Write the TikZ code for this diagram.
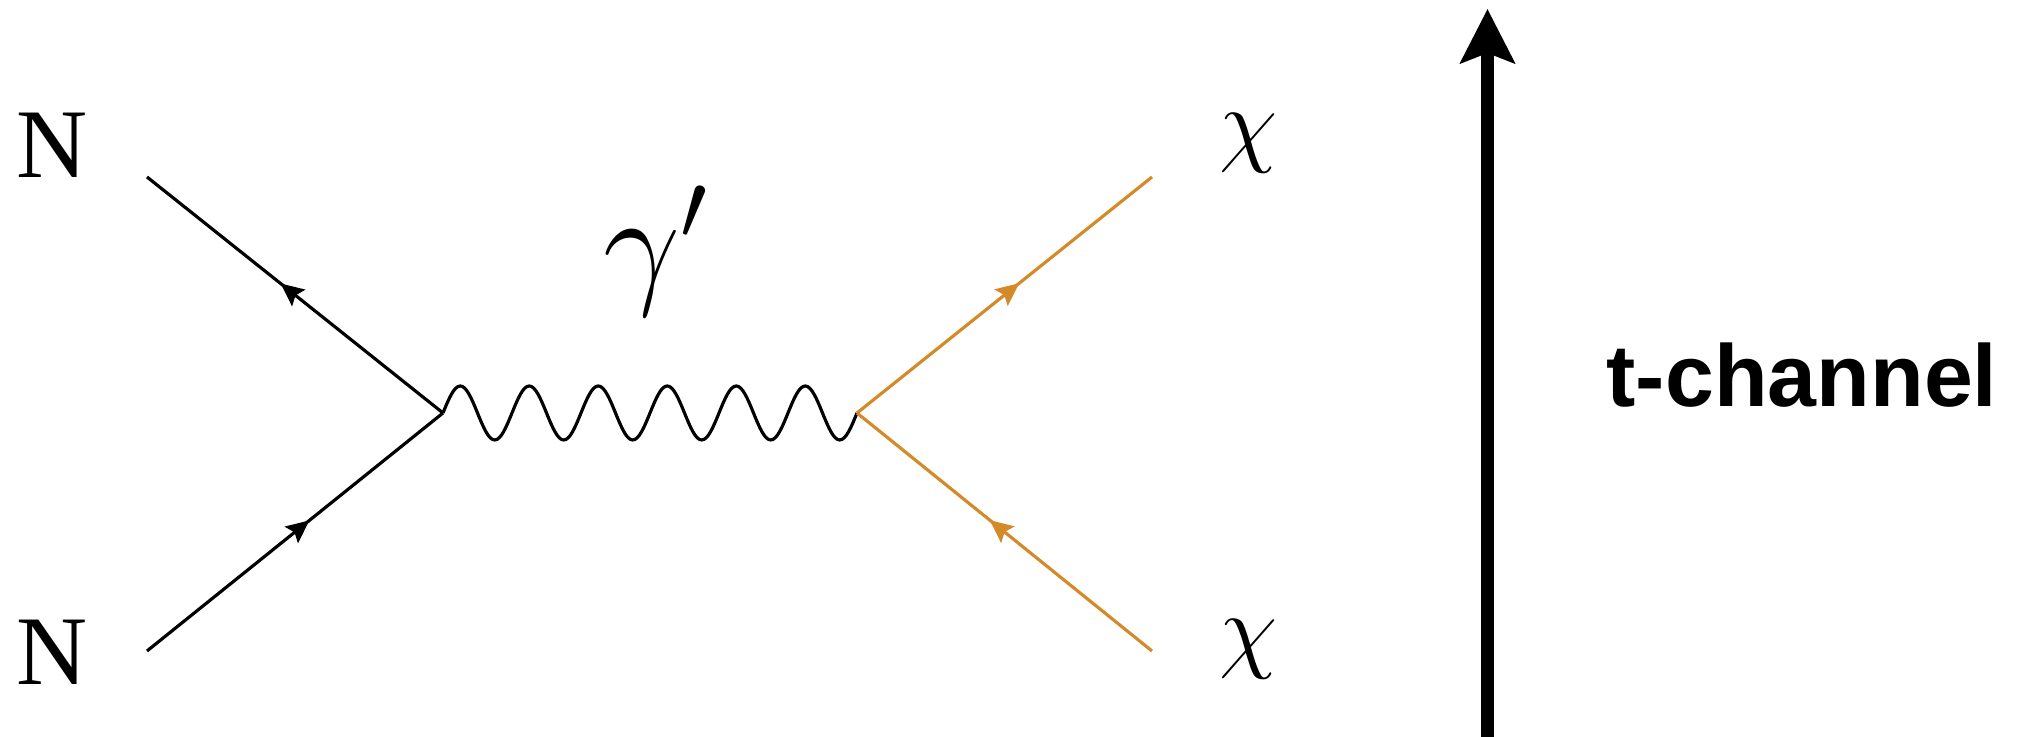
\RequirePackage{fix-cm}
\documentclass[tikz,border=0pt]{standalone}
\usepackage{fontspec}
\newfontfamily\chanfont{Liberation Sans}
\newfontfamily\partfont{Liberation Serif}
\usetikzlibrary{arrows.meta, calc, decorations.markings}
\definecolor{dmorange}{RGB}{212,138,40}

\begin{document}
\begin{tikzpicture}[
  lbl/.style={inner sep=0pt,font=\fontsize{27}{30}\selectfont},
  fermion/.style={line width=0.9pt,postaction={decorate},
    decoration={markings,mark=at position 0.55 with {\arrow{Stealth[length=0.23cm,width=0.21cm,inset=0.04cm]}}}},
  photon/.style={line width=0.9pt,
    to path={let \p1=(\tikztostart), \p2=(\tikztotarget), \n1={(\x2-\x1)/24} in
      (\tikztostart) foreach \k in {1,...,6} {
        sin ++(\n1,0.27cm) cos ++(\n1,-0.27cm) sin ++(\n1,-0.27cm) cos ++(\n1,0.27cm)}}},
  arr/.style={-{Stealth[length=0.54cm,width=0.54cm,inset=0.1cm]},line width=0.13cm}
]
\useasboundingbox (0,0) rectangle (20.25,7.37);
\coordinate (v1) at (4.43,3.24);
\coordinate (v2) at (8.57,3.24);
\coordinate (nin) at (1.47,0.86);
\coordinate (nout) at (1.47,5.60);
\coordinate (xin) at (11.52,0.86);
\coordinate (xout) at (11.52,5.60);
\node[lbl,font=\partfont\fontsize{28}{30}\selectfont] (ntop) at (0.525,5.915) {N};
\node[lbl,font=\partfont\fontsize{28}{30}\selectfont] (nbot) at (0.525,0.845) {N};
\node[lbl] (xtop) at (12.49,5.935) {$\chi$};
\node[lbl] (xbot) at (12.49,0.875) {$\chi$};
\node[inner sep=0pt,font=\fontsize{39}{42}\selectfont] (gam) at (6.56,4.86) {$\gamma'$};
\draw[fermion] (nin) -- (v1);
\draw[fermion] (v1) -- (nout);
\draw[photon] (v1) to (v2);
\draw[fermion,dmorange] (xin) -- (v2);
\draw[fermion,dmorange] (v2) -- (xout);
\coordinate (tbot) at (14.875,0);
\coordinate (ttop) at (14.875,7.28);
\draw[arr] (tbot) -- (ttop);
\node[anchor=base,inner sep=0pt,font=\chanfont\bfseries\fontsize{25}{28}\selectfont] (chan) at (18.02,3.30) {t-channel};
\end{tikzpicture}
\end{document}
